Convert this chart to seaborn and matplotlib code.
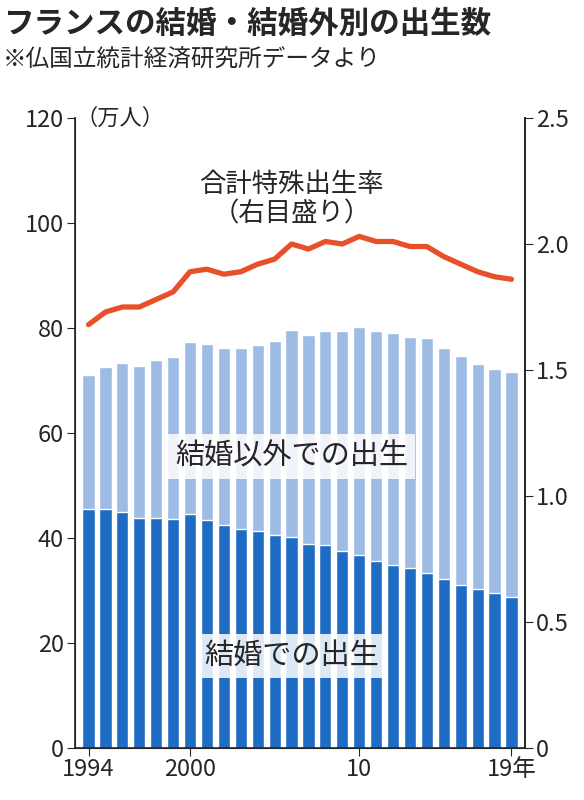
import matplotlib
matplotlib.use("Agg")
import matplotlib.pyplot as plt
import seaborn as sns
import numpy as np
import pandas as pd

sns.set_style("white")
plt.rcParams['font.family'] = ['Noto Sans CJK JP', 'DejaVu Sans']

years = list(range(1994, 2020))
total = [71.0, 72.6, 73.3, 72.8, 73.9, 74.5, 77.3, 77.0, 76.2, 76.2, 76.8, 77.5, 79.6,
         78.7, 79.4, 79.4, 80.2, 79.4, 79.0, 78.3, 78.1, 76.2, 74.7, 73.1, 72.2, 71.6]
married = [45.5, 45.6, 45.0, 43.8, 43.9, 43.6, 44.5, 43.5, 42.5, 41.8, 41.3, 40.6, 40.2,
           38.8, 38.6, 37.5, 36.8, 35.6, 34.8, 34.2, 33.3, 32.2, 31.0, 30.3, 29.5, 28.8]
tfr = [1.68, 1.73, 1.75, 1.75, 1.78, 1.81, 1.89, 1.90, 1.88, 1.89, 1.92, 1.94, 2.00,
       1.98, 2.01, 2.00, 2.03, 2.01, 2.01, 1.99, 1.99, 1.95, 1.92, 1.89, 1.87, 1.86]
xlabels = {1994: "1994", 2000: "2000", 2010: "10", 2019: "19年"}

df = pd.DataFrame({"year": years, "total": total, "married": married, "tfr": tfr})
df["pos"] = np.arange(len(df))

fig = plt.figure(figsize=(5.84, 8.0), dpi=100)
ax = fig.add_axes([75/584, 52/800, 450/584, 630/800])
sns.barplot(data=df, x="pos", y="total", color="#9dbbe3", width=0.72, ax=ax, saturation=1)
sns.barplot(data=df, x="pos", y="married", color="#1f6cc4", width=0.72, ax=ax, saturation=1)
ax.set_ylim(0, 120)
ax.set_xlim(-0.8, len(df) - 0.2)
ax.set_yticks(range(0, 121, 20))
ax.tick_params(axis="y", labelsize=17, length=6, direction="out", left=True, pad=2)
ax.set_xticks([df.pos[df.year == y].iloc[0] for y in xlabels])
ax.set_xticklabels(list(xlabels.values()), fontsize=17)
ax.tick_params(axis="x", length=6, bottom=True, pad=1)
ax.set_xlabel(""); ax.set_ylabel("")
ax.spines["top"].set_visible(False)
for s in ["left", "right", "bottom"]:
    ax.spines[s].set_color("#222"); ax.spines[s].set_linewidth(1.2)

ax2 = ax.twinx()
sns.lineplot(data=df, x="pos", y="tfr", color="#e8502a", linewidth=3.8, ax=ax2)
ax2.set_ylim(0, 2.5)
ax2.set_yticks(np.arange(0, 2.51, 0.5))
ax2.set_yticklabels(["0", "0.5", "1.0", "1.5", "2.0", "2.5"])
ax2.tick_params(axis="y", labelsize=17, length=6, right=True, pad=2)
ax2.set_ylabel(""); ax2.set_xlabel("")
ax2.spines["top"].set_visible(False)
ax2.spines["right"].set_color("#222"); ax2.spines["right"].set_linewidth(1.2)

ax.text(0.0, 120, "（万人）", fontsize=16, va="center", ha="left", transform=ax.get_yaxis_transform())
ax.text(12, 104.5, "合計特殊出生率\n（右目盛り）", fontsize=19, ha="center", va="center", linespacing=1.15)
box = dict(boxstyle="square,pad=0.25", fc="white", ec="none", alpha=0.85)
ax.text(12, 55.5, "結婚以外での出生", fontsize=21, ha="center", va="center", bbox=box)
ax.text(12, 17.5, "結婚での出生", fontsize=21, ha="center", va="center", bbox=box)

fig.text(0.005, 0.99, "フランスの結婚・結婚外別の出生数", fontsize=22, fontweight="bold", va="top")
fig.text(0.005, 0.94, "※仏国立統計経済研究所データより", fontsize=17, va="top")
fig.savefig("out.png", dpi=100)
